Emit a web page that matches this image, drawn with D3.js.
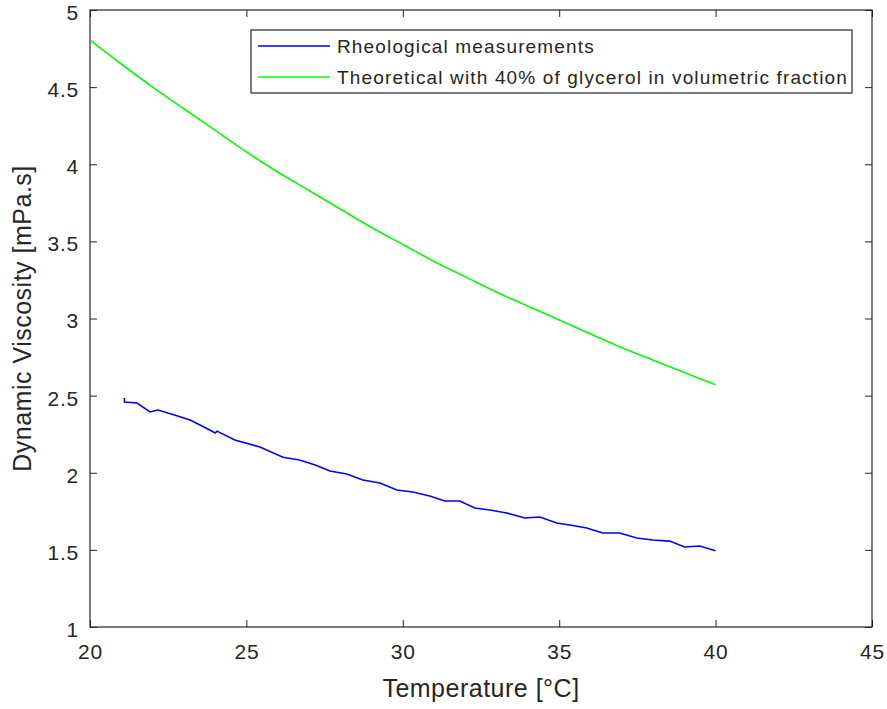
<!DOCTYPE html>
<html>
<head>
<meta charset="utf-8">
<script src="https://d3js.org/d3.v7.min.js"></script>
<style>
body { margin: 0; background: #fff; }
text { font-family: "Liberation Sans", Arial, sans-serif; fill: #262626; }
</style>
</head>
<body>
<svg id="chart" width="887" height="709"></svg>
<script>
var measTemp = [21.1, 21.1, 21.5, 21.92, 22.17, 22.7, 23.2, 23.83, 24.0, 24.06, 24.63, 25.43, 26.17, 26.7, 27.2, 27.67,
  28.21, 28.72, 29.27, 29.81, 30.32, 30.86, 31.34, 31.82, 32.3, 32.78, 33.32, 33.9, 34.38, 34.92, 35.34, 35.88,
  36.39, 36.93, 37.48, 37.99, 38.53, 39.01, 39.49, 40.0];
var measVisc = [2.485, 2.459, 2.452, 2.394, 2.407, 2.374, 2.342, 2.277, 2.258, 2.27, 2.212, 2.167, 2.10, 2.083, 2.05, 2.011,
  1.992, 1.953, 1.933, 1.888, 1.875, 1.849, 1.817, 1.817, 1.771, 1.758, 1.739, 1.707, 1.713, 1.674, 1.661, 1.642,
  1.609, 1.609, 1.577, 1.564, 1.557, 1.519, 1.525, 1.495];

// theoretical, 40% glycerol
var theoTemp = [20, 21, 22, 23, 24, 25, 26, 27, 28, 29, 30, 31, 32, 33, 34, 35, 36, 37, 38, 39, 40];
var theoVisc = [4.805, 4.65, 4.50, 4.36, 4.22, 4.08, 3.95, 3.83, 3.71, 3.59, 3.48, 3.37, 3.27, 3.17, 3.08, 2.99, 2.90, 2.81, 2.73, 2.65, 2.57];

var xTicks = [20, 25, 30, 35, 40, 45];
var yTicks = [1, 1.5, 2, 2.5, 3, 3.5, 4, 4.5, 5];
var seriesNames = ["Rheological measurements", "Theoretical with 40% of glycerol in volumetric fraction"];
var seriesColors = ["#0000ff", "#00ff00"];

var pl = 90, pr = 872, pt = 10, pb = 627;
var svg = d3.select("#chart");

var x = d3.scaleLinear().domain([20, 45]).range([pl, pr]);
var y = d3.scaleLinear().domain([1, 5]).range([pb, pt]);

var axisColor = "#262626";

// axes (box with inward ticks)
function styleAxis(g) {
  g.select(".domain").remove();
  g.selectAll(".tick line").attr("stroke", axisColor);
  g.selectAll(".tick text").style("font-size", "21px").style("letter-spacing", "0.8px").attr("fill", axisColor);
}
svg.append("g").attr("transform", "translate(0," + pb + ")")
  .call(d3.axisBottom(x).tickValues(xTicks).tickSizeInner(-7).tickSizeOuter(0).tickPadding(17).tickFormat(d3.format("d")))
  .call(styleAxis);
svg.append("g").attr("transform", "translate(0," + pt + ")")
  .call(d3.axisTop(x).tickValues(xTicks).tickSizeInner(-7).tickSizeOuter(0).tickFormat(""))
  .call(styleAxis);
svg.append("g").attr("transform", "translate(" + pl + ",0)")
  .call(d3.axisLeft(y).tickValues(yTicks).tickSizeInner(-7).tickSizeOuter(0).tickPadding(11).tickFormat(d3.format("~g")))
  .call(styleAxis)
  .call(function(g) { g.selectAll(".tick text").attr("dy", "0.45em"); });
svg.append("g").attr("transform", "translate(" + pr + ",0)")
  .call(d3.axisRight(y).tickValues(yTicks).tickSizeInner(-7).tickSizeOuter(0).tickFormat(""))
  .call(styleAxis);

svg.append("rect").attr("x", pl).attr("y", pt).attr("width", pr - pl).attr("height", pb - pt)
  .attr("fill", "none").attr("stroke", axisColor).attr("stroke-width", 1.2);

// lines
var line = d3.line().curve(d3.curveMonotoneX).x(function(d) { return x(d[0]); }).y(function(d) { return y(d[1]); });
svg.append("path").datum(d3.zip(theoTemp, theoVisc)).attr("d", line)
  .attr("fill", "none").attr("stroke", seriesColors[1]).attr("stroke-width", 1.6);
svg.append("path").datum(d3.zip(measTemp, measVisc)).attr("d", line.curve(d3.curveLinear))
  .attr("fill", "none").attr("stroke", seriesColors[0]).attr("stroke-width", 1.6);

// axis labels
svg.append("text").attr("x", (pl + pr) / 2).attr("y", 697).attr("text-anchor", "middle")
  .style("font-size", "25px").style("letter-spacing", "0.5px").text("Temperature [°C]");
svg.append("text").attr("transform", "translate(31," + ((pt + pb) / 2) + ") rotate(-90)")
  .attr("text-anchor", "middle").style("font-size", "25px").style("letter-spacing", "0.5px")
  .text("Dynamic Viscosity [mPa.s]");

// legend
var lg = svg.append("g");
lg.append("rect").attr("x", 251).attr("y", 30).attr("width", 601).attr("height", 63)
  .attr("fill", "#fff").attr("stroke", axisColor).attr("stroke-width", 1.2);
seriesNames.forEach(function(name, i) {
  var ly = 46 + i * 31;
  lg.append("line").attr("x1", 258).attr("x2", 330).attr("y1", ly).attr("y2", ly)
    .attr("stroke", seriesColors[i]).attr("stroke-width", 1.6);
  lg.append("text").attr("x", 337).attr("y", ly).attr("dy", "0.35em")
    .style("font-size", "19px").style("letter-spacing", "1.15px").text(name);
});
</script>
</body>
</html>
